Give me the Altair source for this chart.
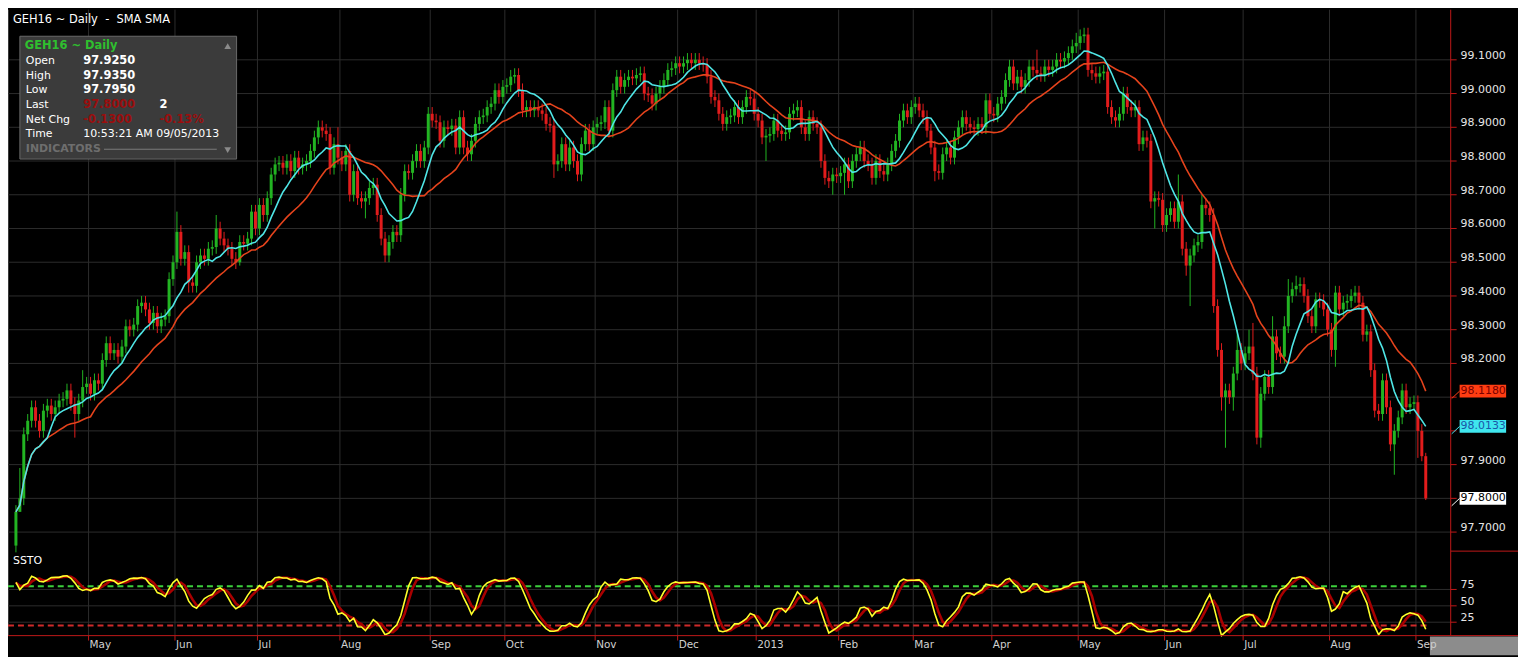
import altair as alt
import numpy as np
import pandas as pd

# ---------------- data ----------------
FIRST_OPEN = 97.66
CLOSES = [
    # Apr 2012
    97.76, 97.80, 97.99, 98.03, 98.07, 98.03, 98.00, 98.06, 98.075, 98.05,
    98.07, 98.09, 98.095, 98.12, 98.08, 98.05, 98.09, 98.13, 98.14,
    # May
    98.11, 98.15, 98.14, 98.21, 98.26, 98.23, 98.24, 98.22, 98.25, 98.31,
    98.30, 98.315, 98.37, 98.38, 98.36, 98.32, 98.35, 98.31, 98.33, 98.34,
    98.45, 98.50,
    # Jun
    98.59, 98.51, 98.53, 98.44, 98.43, 98.50, 98.52, 98.51, 98.54, 98.545,
    98.60, 98.57, 98.55, 98.54, 98.51, 98.50, 98.56, 98.555, 98.57, 98.65,
    98.60,
    # Jul
    98.67, 98.64, 98.69, 98.76, 98.79, 98.795, 98.78, 98.80, 98.77, 98.81,
    98.78, 98.79, 98.80, 98.83, 98.87, 98.90, 98.89, 98.88, 98.78, 98.85,
    98.81,
    # Aug
    98.79, 98.83, 98.70, 98.77, 98.69, 98.68, 98.69, 98.72, 98.73, 98.64,
    98.57, 98.52, 98.56, 98.59, 98.58, 98.70, 98.77, 98.765, 98.80, 98.83,
    98.80, 98.84, 98.94,
    # Sep
    98.92, 98.915, 98.86, 98.90, 98.895, 98.905, 98.84, 98.93, 98.84, 98.82,
    98.86, 98.91, 98.93, 98.935, 98.96, 98.97, 99.01, 98.99, 99.02,
    # Oct
    99.025, 99.05, 99.055, 99.01, 98.95, 98.96, 98.95, 98.96, 98.95, 98.94,
    98.91, 98.905, 98.79, 98.80, 98.85, 98.79, 98.84, 98.80, 98.76, 98.85,
    98.89, 98.85, 98.90,
    # Nov
    98.91, 98.915, 98.96, 98.89, 99.01, 99.05, 99.02, 99.04, 99.05, 99.045,
    99.055, 99.06, 99.00, 98.995, 98.97, 99.00, 99.02, 99.04, 99.07, 99.075,
    99.09,
    # Dec
    99.08, 99.09, 99.10, 99.09, 99.10, 99.09, 99.085, 99.05, 98.99, 98.98,
    98.94, 98.91, 98.93, 98.935, 98.96, 98.93, 98.96, 98.99, 98.985, 98.94,
    # Jan 2013
    98.92, 98.87, 98.875, 98.88, 98.92, 98.89, 98.88, 98.885, 98.94, 98.95,
    98.96, 98.90, 98.88, 98.93, 98.91, 98.90, 98.80, 98.75, 98.74, 98.76,
    98.755,
    # Feb
    98.765, 98.79, 98.74, 98.80, 98.82, 98.84, 98.80, 98.79, 98.75, 98.80,
    98.77, 98.76, 98.79, 98.83, 98.86, 98.92, 98.95, 98.93, 98.96,
    # Mar
    98.97, 98.95, 98.93, 98.89, 98.84, 98.77, 98.765, 98.82, 98.84, 98.81,
    98.87, 98.90, 98.93, 98.91, 98.90, 98.895, 98.91, 98.90, 98.98, 98.94,
    # Apr
    98.935, 98.97, 98.99, 99.04, 99.08, 99.03, 99.05, 99.02, 99.04, 99.08,
    99.07, 99.06, 99.055, 99.08, 99.07, 99.08, 99.10, 99.095, 99.105, 99.12,
    99.14, 99.15,
    # May
    99.17, 99.175, 99.07, 99.06, 99.05, 99.06, 99.065, 98.96, 98.93, 98.92,
    98.94, 99.00, 98.96, 98.95, 98.96, 98.85, 98.87, 98.86, 98.68, 98.69,
    98.685, 98.61,
    # Jun
    98.64, 98.66, 98.62, 98.68, 98.54, 98.49, 98.52, 98.55, 98.56, 98.67,
    98.66, 98.64, 98.37, 98.24, 98.10, 98.12, 98.10, 98.17, 98.24, 98.20,
    # Jul
    98.23, 98.25, 98.17, 97.98, 98.11, 98.16, 98.13, 98.28, 98.23, 98.22,
    98.31, 98.40, 98.42, 98.43, 98.435, 98.40, 98.34, 98.31, 98.39, 98.385,
    98.36, 98.30,
    # Aug
    98.24, 98.41, 98.36, 98.38, 98.385, 98.40, 98.41, 98.38, 98.285, 98.295,
    98.18, 98.06, 98.05, 98.15, 98.07, 97.96, 98.00, 98.04, 98.12, 98.07,
    98.08, 98.085,
    # Sep 2013
    98.00, 97.925, 97.80,
]
# long wicks (bar index -> extreme price); other bars get a short wick
HIGH_WICKS = {1: 97.89, 17: 98.18, 41: 98.65, 51: 98.64, 82: 98.90, 260: 99.13,
              270: 99.18, 271: 99.19, 296: 98.76, 302: 98.70, 311: 98.30, 314: 98.30,
              315: 98.32, 320: 98.34, 323: 98.34, 324: 98.45, 326: 98.46, 336: 98.43,
              341: 98.43, 342: 98.43, 348: 98.17, 359: 97.935}
LOW_WICKS = {1: 97.76, 15: 97.98, 44: 98.41, 57: 98.49, 89: 98.63, 94: 98.50,
             137: 98.75, 143: 98.74, 191: 98.80, 206: 98.73, 208: 98.70, 211: 98.70,
             234: 98.74, 290: 98.60, 298: 98.46, 299: 98.37, 307: 98.06, 308: 97.95,
             310: 98.06, 316: 97.96, 317: 97.95, 336: 98.19, 351: 97.87, 357: 97.92,
             358: 97.91, 359: 97.795}
SHORT_WICK = 0.02
MONTH_LABELS = ["May", "Jun", "Jul", "Aug", "Sep", "Oct", "Nov", "Dec", "2013",
                "Feb", "Mar", "Apr", "May", "Jun", "Jul", "Aug", "Sep"]
MONTH_STARTS = [19, 41, 62, 83, 106, 125, 148, 169, 189, 210, 229, 249, 271,
                293, 313, 335, 357]
PRICE_TICKS = [97.7, 97.8, 97.9, 98.0, 98.1, 98.2, 98.3, 98.4, 98.5, 98.6,
               98.7, 98.8, 98.9, 99.0, 99.1]
SSTO_TICKS = [25, 50, 75]
SSTO_HIGH, SSTO_LOW = 80, 20
SMA_FAST, SMA_SLOW = 9, 20
K_LEN, K_SMOOTH, D_LEN = 14, 3, 3

# ---------------- derived series ----------------
closes = np.array(CLOSES, dtype=float)
opens = np.concatenate([[FIRST_OPEN], closes[:-1]])
top = np.maximum(opens, closes)
bot = np.minimum(opens, closes)
highs = top + SHORT_WICK
lows = bot - SHORT_WICK
for b, v in HIGH_WICKS.items():
    highs[b] = max(v, top[b])
for b, v in LOW_WICKS.items():
    lows[b] = min(v, bot[b])
cs = pd.Series(closes)
hh = pd.Series(highs).rolling(K_LEN, min_periods=1).max()
ll = pd.Series(lows).rolling(K_LEN, min_periods=1).min()
fastk = 100 * (cs - ll) / (hh - ll)
slowk = fastk.rolling(K_SMOOTH, min_periods=1).mean()
slowd = slowk.rolling(D_LEN, min_periods=1).mean()

df = pd.DataFrame({
    "i": np.arange(len(closes)),
    "o": opens, "h": highs, "l": lows, "c": closes,
    "s9": cs.rolling(SMA_FAST, min_periods=1).mean(),
    "s20": cs.rolling(SMA_SLOW, min_periods=1).mean(),
    "k": slowk, "d": slowd,
})
last = df.iloc[-1]
months = pd.DataFrame({"g": [s - 0.5 for s in MONTH_STARTS], "label": MONTH_LABELS})
pticks = pd.DataFrame({"p": PRICE_TICKS, "lbl": [f"{p:.4f}" for p in PRICE_TICKS]})
plabels = pticks[(pticks["p"] - last["c"]).abs() > 0.01]   # the last-price tag covers its own tick label
sticks = pd.DataFrame({"s": SSTO_TICKS, "lbl": [str(s) for s in SSTO_TICKS]})
bands = pd.DataFrame({"s": [SSTO_HIGH, SSTO_LOW], "col": ["#3ccf3c", "#cf2a2a"]})
tags = pd.DataFrame({
    "v": [last["s20"], last["s9"], last["c"]],
    "fill": ["#ff3d12", "#3fe6ee", "#ffffff"],
    "tc": ["#7a0000", "#1a56a8", "#000000"],
    "lc": ["#ff3d12", "#3fe6ee", "#ffffff"],
})
one = pd.DataFrame({"k0": [0]})

# ---------------- layout (reference pixel coords, scaled to the drawing) ----------------
W, H = 1518, 649
SXF, SYF = W / 1526.0, H / 657.0


def vx(x):
    return alt.value(round(x * SXF, 2))


def vy(y):
    return alt.value(round(y * SYF, 2))


AXX = 1458          # right edge of the plot area (reference px)
STRIP = 637         # bottom edge of the indicator panel (reference px)
FONT = "DejaVu Sans"
GRID = "#2c2c2c"
FRAME = "#c01818"
GREEN, RED = "#22b422", "#e21c1c"

XS = alt.Scale(domain=[-0.7509, 381.226], nice=False, zero=False)
PS = alt.Scale(domain=[97.33478, 99.24856], nice=False, zero=False)
SS = alt.Scale(domain=[-25.5, 960.0], nice=False, zero=False)


def X(f):
    return alt.X(f"{f}:Q", scale=XS, axis=None)


def PY(f):
    return alt.Y(f"{f}:Q", scale=PS, axis=None)


def SY(f):
    return alt.Y(f"{f}:Q", scale=SS, axis=None)


def txt(x, y, s, color="#ffffff", size=11, weight="normal", align="left"):
    return alt.Chart(one).mark_text(
        text=s, align=align, baseline="middle", font=FONT, fontSize=size,
        fontWeight=weight, color=color,
    ).encode(x=vx(x), y=vy(y))


def box(x1, x2, y1, y2, fill, stroke=None, sw=0):
    kw = dict(fill=fill)
    if stroke:
        kw.update(stroke=stroke, strokeWidth=sw)
    return alt.Chart(one).mark_rect(**kw).encode(x=vx(x1), x2=vx(x2), y=vy(y1), y2=vy(y2))


def hline(x1, x2, y, color, sw=1):
    return alt.Chart(one).mark_rule(color=color, strokeWidth=sw).encode(
        x=vx(x1), x2=vx(x2), y=vy(y))


def vline(x, y1, y2, color, sw=1):
    return alt.Chart(one).mark_rule(color=color, strokeWidth=sw).encode(
        x=vx(x), y=vy(y1), y2=vy(y2))


candle_color = alt.when("datum.c >= datum.o").then(alt.value(GREEN)).otherwise(alt.value(RED))

layers = []
# grid
layers.append(vline(0.5, 0, STRIP, "#3a3a3a"))
layers.append(alt.Chart(months).mark_rule(color=GRID).encode(
    x=X("g"), y=vy(0), y2=vy(STRIP)))
layers.append(alt.Chart(pticks).mark_rule(color=GRID).encode(
    y=PY("p"), x=vx(0), x2=vx(AXX)))
layers.append(alt.Chart(sticks).mark_rule(color=GRID).encode(
    y=SY("s"), x=vx(0), x2=vx(AXX)))
# candles
layers.append(alt.Chart(df).mark_rule(strokeWidth=1).encode(
    x=X("i"), y=PY("l"), y2=alt.Y2("h"), color=candle_color))
layers.append(alt.Chart(df).mark_bar(size=3).encode(
    x=X("i"), y=PY("o"), y2=alt.Y2("c"), color=candle_color))
# moving averages
layers.append(alt.Chart(df).mark_line(color="#e5431c", strokeWidth=1.6).encode(
    x=X("i"), y=PY("s20")))
layers.append(alt.Chart(df).mark_line(color="#4fe6e6", strokeWidth=1.6).encode(
    x=X("i"), y=PY("s9")))
# SSTO
layers.append(alt.Chart(bands).mark_rule(strokeWidth=2, strokeDash=[6, 4]).encode(
    y=SY("s"), x=vx(0), x2=vx(1437), color=alt.Color("col:N", scale=None)))
layers.append(alt.Chart(df).mark_line(color="#a80000", strokeWidth=2.6).encode(
    x=X("i"), y=SY("d")))
layers.append(alt.Chart(df).mark_line(color="#ffff2a", strokeWidth=1.6).encode(
    x=X("i"), y=SY("k")))
layers.append(txt(5, 561, "SSTO", size=11))

# frame
layers.append(vline(AXX, 0, STRIP, FRAME))
layers.append(hline(0, 1526, STRIP, FRAME))
layers.append(hline(AXX, 1526, 551, FRAME))
layers.append(alt.Chart(months).mark_rule(color=FRAME).encode(
    x=X("g"), y=vy(STRIP), y2=vy(642)))
layers.append(alt.Chart(pticks).mark_rule(color=FRAME).encode(
    y=PY("p"), x=vx(AXX), x2=vx(AXX + 6)))
layers.append(alt.Chart(sticks).mark_rule(color=FRAME).encode(
    y=SY("s"), x=vx(AXX), x2=vx(AXX + 6)))

# right axis labels
layers.append(alt.Chart(plabels).mark_text(
    align="left", baseline="middle", dy=-4, font=FONT, fontSize=11, color="#e6e6e6").encode(
    x=vx(1468), y=PY("p"), text="lbl:N"))
layers.append(alt.Chart(sticks).mark_text(
    align="left", baseline="middle", dy=-4, font=FONT, fontSize=11, color="#e6e6e6").encode(
    x=vx(1468), y=SY("s"), text="lbl:N"))

# last-value tags
tagbase = alt.Chart(tags).transform_calculate(
    top="datum.v + 0.019", bot="datum.v - 0.019", a="datum.v - 0.022")
layers.append(tagbase.mark_rule(strokeWidth=1).encode(
    x=vx(AXX + 1), x2=vx(1467), y=PY("a"), y2=alt.Y2("v"),
    color=alt.Color("lc:N", scale=None)))
layers.append(tagbase.mark_rect().encode(
    x=vx(1467), x2=vx(1514), y=PY("top"), y2=alt.Y2("bot"),
    color=alt.Color("fill:N", scale=None)))
layers.append(tagbase.mark_text(
    align="left", baseline="middle", font=FONT, fontSize=11).encode(
    x=vx(1468), y=PY("v"), text=alt.Text("v:Q", format=".4f"),
    color=alt.Color("tc:N", scale=None)))

# bottom strip: month labels
layers.append(box(1437, 1526, STRIP + 1, 657, "#8c8c8c"))
layers.append(alt.Chart(months).mark_text(
    align="left", baseline="middle", dx=1, font=FONT, fontSize=10.5, color="#d0d0d0").encode(
    x=X("g"), y=vy(647), text="label:N"))

# title and info box
NB = "\u00a0"
layers.append(txt(5, 10, f"GEH16 ~ Daily{NB}{NB}-{NB}{NB}SMA SMA", size=11.5))
layers.append(box(12, 231, 27, 152, "#3b3b3b", "#6a6a6a", 1))
layers.append(txt(17, 37, "GEH16 ~ Daily", color="#2fbf2f", size=11.5, weight="bold"))
rows = [("Open", "97.9250", "#ffffff"), ("High", "97.9350", "#ffffff"),
        ("Low", "97.7950", "#ffffff"), ("Last", "97.8000", "#9a0e0e"),
        ("Net Chg", "-0.1300", "#9a0e0e")]
for n, (lab, val, col) in enumerate(rows):
    yy = 52 + 15 * n
    layers.append(txt(18, yy, lab, size=11))
    layers.append(txt(76, yy, val, color=col, size=11.5, weight="bold"))
layers.append(txt(153, 97, "2", size=11.5, weight="bold"))
layers.append(txt(153, 112, "-0.13%", color="#9a0e0e", size=11.5, weight="bold"))
layers.append(txt(18, 127, "Time", size=11))
layers.append(txt(76, 127, "10:53:21 AM 09/05/2013", size=11))
layers.append(txt(18, 142, "INDICATORS", color="#6e6e6e", size=11, weight="bold"))
layers.append(hline(97, 211, 142, "#7a7a7a"))
layers.append(alt.Chart(one).mark_point(shape="triangle-up", filled=True, size=45, color="#8a8a8a",
                                        opacity=1).encode(x=vx(222), y=vy(37)))
layers.append(alt.Chart(one).mark_point(shape="triangle-down", filled=True, size=45, color="#8a8a8a",
                                        opacity=1).encode(x=vx(222), y=vy(143)))

chart = alt.layer(*layers).resolve_scale(y="independent").properties(
    width=W, height=H, padding=0, background="#000000",
    autosize=alt.AutoSizeParams(type="none"),
    usermeta={"embedOptions": {"defaultStyle":
              "html,body{margin:0;padding:0;overflow:hidden;background:#000}"}},
).configure_view(strokeWidth=0, fill="#000000")

chart.save("out.html", embed_options={"renderer": "svg", "actions": False})
